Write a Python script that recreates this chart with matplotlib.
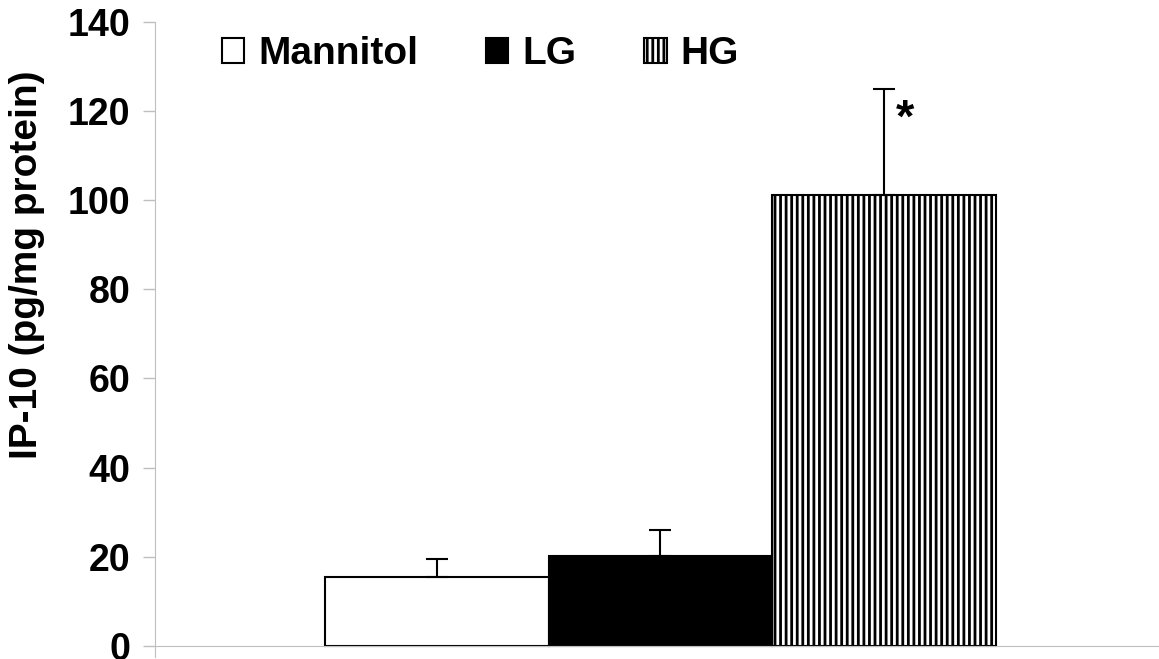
import matplotlib.pyplot as plt
import matplotlib.patches as mpatches

# values
groups = ['Mannitol', 'LG', 'HG']
means = [15.5, 20.2, 101.2]
errors = [4.0, 5.9, 23.8]
yticks = [0, 20, 40, 60, 80, 100, 120, 140]

face = ['white', 'black', 'white']
hatches = [None, None, '|||']

plt.rcParams['font.family'] = ['Liberation Sans', 'DejaVu Sans']
plt.rcParams['font.weight'] = 'bold'
plt.rcParams['hatch.linewidth'] = 2.0

fig = plt.figure(figsize=(11.59, 6.59), dpi=100)
ax = fig.add_axes([155 / 1159, 2 / 659, 1004 / 1159, 635 / 659])

xpos = [-1, 0, 1]
bars = ax.bar(xpos, means, width=1.0, color=face, edgecolor='black',
              linewidth=1.5, zorder=2)
for b, h in zip(bars, hatches):
    if h:
        b.set_hatch(h)

ax.errorbar(xpos, means, yerr=[[0, 0, 0], errors], fmt='none', ecolor='black',
            elinewidth=1.5, capsize=8, capthick=1.5, zorder=3)

# significance mark
ax.text(1.096, 118.0, '*', fontsize=34, fontweight='bold', ha='center', va='center')

ax.set_xlim(-2.26, 2.23)
ax.set_ylim(-2.5, 140)
ax.set_yticks(yticks)
ax.set_xticks([])
ax.tick_params(axis='y', labelsize=27, length=9, width=1, color='#bfbfbf', pad=9)
for lbl in ax.get_yticklabels():
    lbl.set_fontweight('bold')

for s in ['top', 'right']:
    ax.spines[s].set_visible(False)
ax.spines['left'].set_color('#bfbfbf')
ax.spines['bottom'].set_color('#bfbfbf')
ax.spines['bottom'].set_position(('data', 0))

ax.set_ylabel('IP-10 (pg/mg protein)', fontsize=28, fontweight='bold')
ax.yaxis.set_label_coords(-0.11, 0.617)

handles = [mpatches.Patch(facecolor=f, edgecolor='black', hatch=h, linewidth=1.5, label=g)
           for f, h, g in zip(face, hatches, groups)]
ax.legend(handles=handles, loc='upper left', bbox_to_anchor=(0.0667, 0.978), ncol=3,
          frameon=False, fontsize=28, handlelength=0.57, handleheight=0.6,
          handletextpad=0.36, columnspacing=1.75, borderpad=0, borderaxespad=0)

fig.savefig('out.png', dpi=100)
